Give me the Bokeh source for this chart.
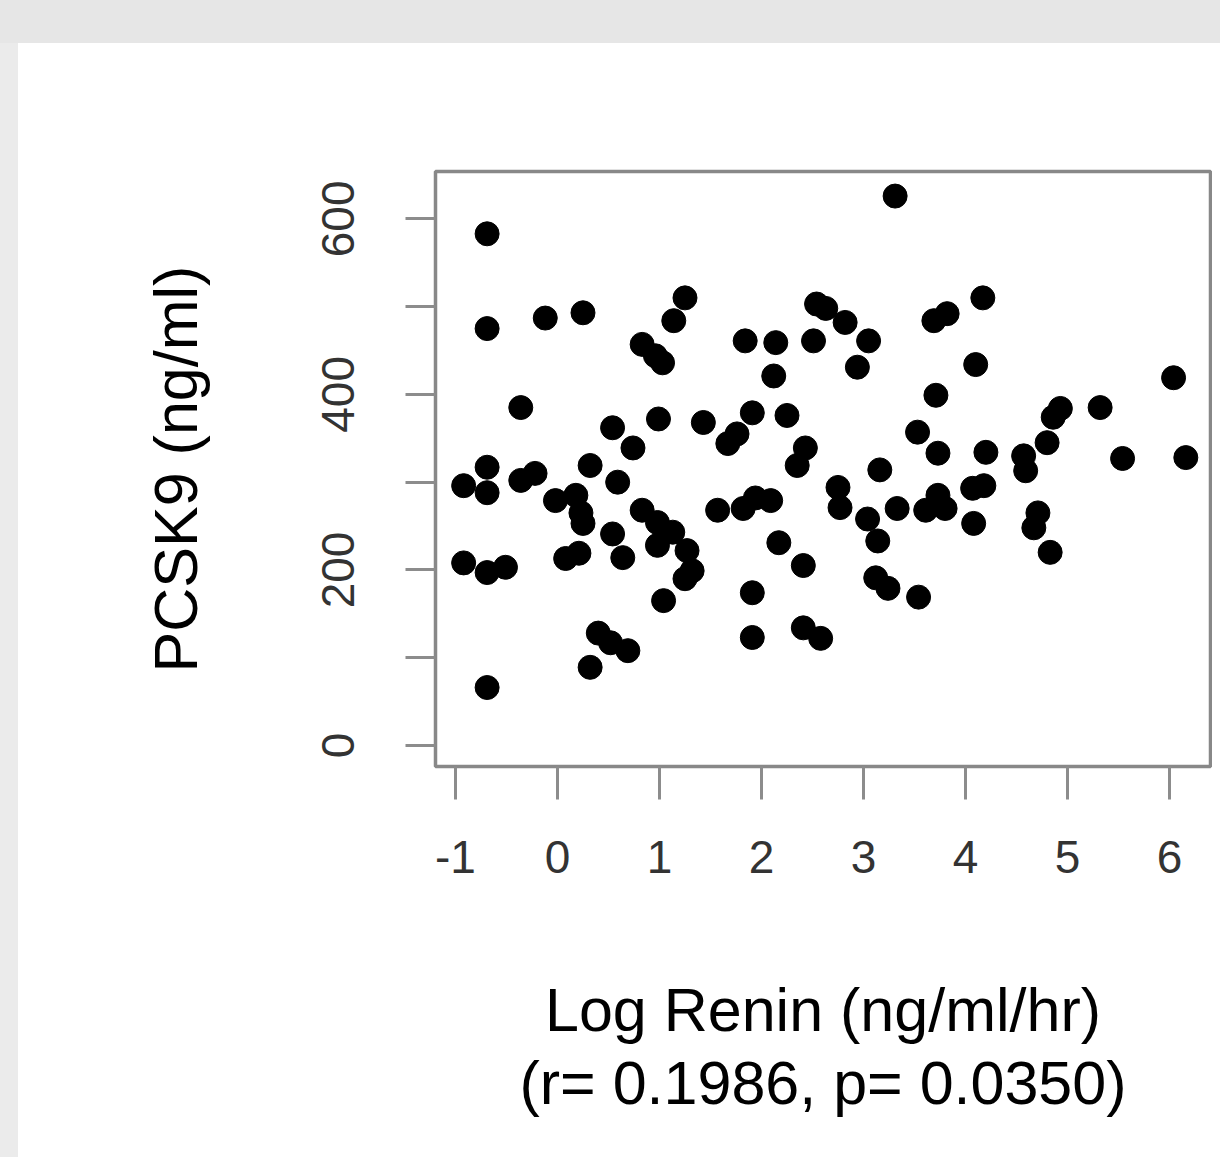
from bokeh.plotting import figure
from bokeh.models import Div, FixedTicker
from bokeh.layouts import column, row
from bokeh.embed import file_html
from bokeh.resources import INLINE

# Data
log_renin = [
    -0.69, -0.69, -0.69, -0.69, -0.92, -0.92, -0.69, -0.51, -0.69, -0.36,
    -0.22, -0.12, 0.25, -0.36, 0.32, 0.59, -0.02, 0.18, 0.23, 0.25,
    0.54, 0.64, 0.08, 0.21, 0.83, 0.98, 1.13, 0.98, 1.27, 1.32,
    1.25, 1.04, 1.57, 1.82, 1.94, 2.09, 2.17, 2.41, 1.91, 1.91,
    2.41, 2.58, 0.40, 0.52, 0.69, 0.32, 2.35, 0.54, 0.74, 0.99,
    1.25, 1.14, 0.83, 0.96, 1.03, 1.43, 1.67, 1.76, 1.91, 2.25,
    2.43, 1.84, 2.14, 2.12, 2.51, 2.54, 2.63, 3.31, 2.82, 3.05,
    2.94, 3.69, 3.82, 4.17, 4.10, 3.71, 3.53, 3.73, 4.20, 4.57,
    4.59, 4.80, 4.86, 4.93, 5.32, 6.04, 5.54, 6.16, 3.16, 2.75,
    2.77, 3.04, 3.14, 3.33, 3.61, 3.73, 3.80, 4.07, 4.18, 4.08,
    4.71, 4.67, 4.83, 3.12, 3.24, 3.54,
]
pcsk9 = [
    583, 475, 317, 288, 296, 208, 197, 203, 66, 302,
    310, 487, 493, 385, 319, 300, 279, 285, 265, 253,
    241, 214, 213, 219, 268, 254, 243, 228, 222, 199,
    190, 165, 268, 270, 282, 279, 231, 205, 174, 123,
    134, 122, 128, 117, 108, 89, 319, 362, 339, 372,
    510, 484, 457, 444, 436, 368, 344, 355, 379, 376,
    339, 461, 459, 421, 461, 503, 498, 626, 482, 461,
    431, 484, 492, 510, 434, 399, 357, 333, 334, 330,
    313, 345, 374, 384, 385, 419, 327, 328, 314, 294,
    271, 258, 233, 270, 268, 285, 270, 293, 296, 253,
    265, 248, 220, 191, 179, 169,
]
x_ticks = [-1, 0, 1, 2, 3, 4, 5, 6]
x_tick_labels = {-1: "-1", 0: "0", 1: "1", 2: "2", 3: "3", 4: "4", 5: "5", 6: "6"}
y_ticks = [0, 100, 200, 300, 400, 500, 600]
y_tick_labels = {0: "0", 100: "", 200: "200", 300: "", 400: "400", 500: "", 600: "600"}
x_title = "Log Renin (ng/ml/hr)\n(r= 0.1986, p= 0.0350)"
y_title = "PCSK9 (ng/ml)"

FONT = "Liberation Sans"
GRAY = "#e6e6e6"

p = figure(
    width=1194, height=1114,
    x_range=(-1.196, 6.402), y_range=(-24, 654),
    output_backend="svg", toolbar_location=None,
    min_border_left=417, min_border_right=2,
    min_border_top=128, min_border_bottom=391,
)
p.xgrid.visible = False
p.ygrid.visible = False
p.background_fill_color = "white"
p.border_fill_color = "white"
p.outline_line_color = "#888888"
p.outline_line_width = 3.5

p.scatter(log_renin, pcsk9, size=24, color="black")

for ax in (p.xaxis[0], p.yaxis[0]):
    ax.axis_line_color = None
    ax.major_tick_in = 0
    ax.major_tick_line_color = "#8c8c8c"
    ax.major_tick_line_width = 3
    ax.minor_tick_line_color = None
    ax.major_label_text_font = FONT
    ax.major_label_text_font_size = "46px"
    ax.major_label_text_color = "#333333"
    ax.axis_label_text_font = FONT
    ax.axis_label_text_font_size = "61px"
    ax.axis_label_text_font_style = "normal"
    ax.axis_label_text_color = "black"

p.xaxis.ticker = FixedTicker(ticks=x_ticks)
p.xaxis.major_label_overrides = x_tick_labels
p.xaxis.major_tick_out = 33
p.xaxis.major_label_standoff = 41
p.xaxis.axis_label = x_title
p.xaxis.axis_label_text_line_height = 1.08
p.xaxis.axis_label_standoff = 100

p.yaxis.ticker = FixedTicker(ticks=y_ticks)
p.yaxis.major_label_overrides = y_tick_labels
p.yaxis.major_tick_out = 30
p.yaxis.major_label_standoff = 51
p.yaxis.major_label_orientation = "vertical"
p.yaxis.axis_label = y_title
p.yaxis.axis_label_standoff = 110

top_band = Div(width=1220, height=43, margin=0, styles={"background-color": GRAY})
left_band = Div(width=18, height=1114, margin=0, styles={"background-color": "#ebebeb"})
layout = column(top_band, row(left_band, p, spacing=0), spacing=0)

open("out.html", "w").write(file_html(layout, INLINE))
